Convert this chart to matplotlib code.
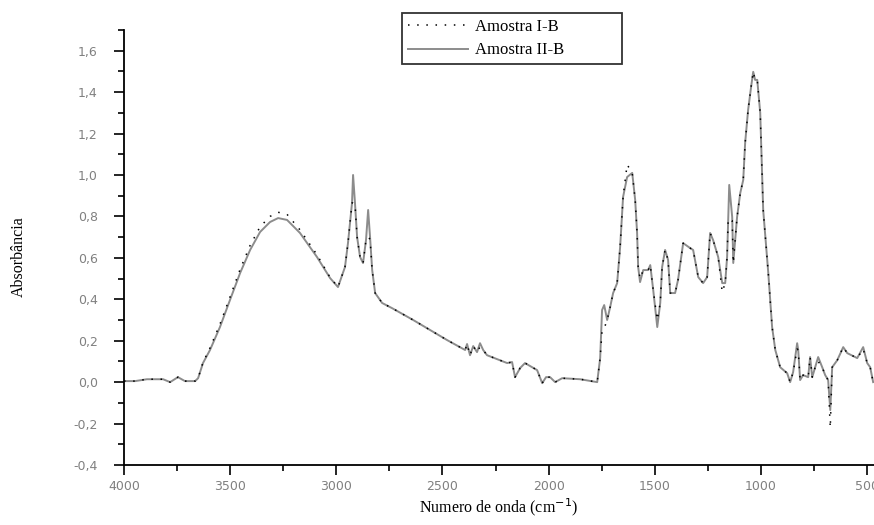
import numpy as np
import matplotlib.pyplot as plt
from matplotlib.ticker import MultipleLocator, FuncFormatter

# wavenumber grid (cm-1)
wavenumber = [4000, 3948, 3892, 3816, 3783, 3746, 3713, 3665, 3651, 3628, 3595, 3548,
              3501, 3453, 3406, 3359, 3312, 3274, 3232, 3171, 3091, 3029, 2992, 2959,
              2945, 2926, 2921, 2912, 2902, 2888, 2874, 2860, 2850, 2841, 2831, 2817,
              2784, 2737, 2638, 2478, 2393, 2384, 2370, 2355, 2337, 2323, 2308, 2290,
              2195, 2172, 2158, 2134, 2111, 2054, 2030, 2012, 1993, 1969, 1936, 1851,
              1771, 1757, 1748, 1738, 1724, 1710, 1696, 1677, 1663, 1649, 1630, 1606,
              1592, 1583, 1578, 1569, 1554, 1531, 1521, 1507, 1488, 1474, 1465, 1451,
              1437, 1427, 1404, 1390, 1366, 1333, 1319, 1295, 1272, 1253, 1239, 1225,
              1201, 1182, 1168, 1159, 1154, 1149, 1135, 1130, 1112, 1097, 1083, 1074,
              1060, 1046, 1036, 1027, 1017, 1003, 989, 965, 947, 932, 909, 876,
              862, 848, 829, 824, 815, 801, 777, 768, 758, 744, 730, 711,
              697, 683, 673, 664, 640, 612, 593, 546, 518, 499, 485, 471]

amostra_2b = [0.005, 0.005, 0.014, 0.014, 0.0, 0.024, 0.005, 0.005, 0.019, 0.092, 0.155, 0.266,
              0.396, 0.527, 0.638, 0.725, 0.773, 0.792, 0.783, 0.720, 0.604, 0.502, 0.459, 0.556,
              0.671, 0.865, 1.000, 0.865, 0.700, 0.604, 0.575, 0.686, 0.831, 0.700, 0.541, 0.430,
              0.382, 0.357, 0.300, 0.203, 0.155, 0.184, 0.130, 0.174, 0.145, 0.188, 0.155, 0.130,
              0.092, 0.097, 0.024, 0.068, 0.092, 0.058, -0.005, 0.024, 0.024, 0.0, 0.019, 0.014,
              0.0, 0.116, 0.348, 0.372, 0.300, 0.362, 0.430, 0.478, 0.652, 0.894, 0.990, 1.010,
              0.879, 0.720, 0.556, 0.483, 0.541, 0.541, 0.565, 0.444, 0.266, 0.382, 0.556, 0.638,
              0.590, 0.430, 0.430, 0.494, 0.671, 0.647, 0.638, 0.507, 0.478, 0.507, 0.720, 0.686,
              0.604, 0.478, 0.478, 0.604, 0.783, 0.952, 0.797, 0.575, 0.797, 0.913, 0.976, 1.155,
              1.314, 1.425, 1.498, 1.459, 1.459, 1.300, 0.831, 0.527, 0.266, 0.155, 0.072, 0.043,
              0.0, 0.048, 0.188, 0.155, 0.010, 0.034, 0.024, 0.121, 0.024, 0.072, 0.121, 0.072,
              0.034, 0.010, -0.135, 0.072, 0.106, 0.169, 0.140, 0.116, 0.169, 0.092, 0.072, 0.0]

amostra_1b = [0.005, 0.005, 0.014, 0.014, 0.0, 0.024, 0.005, 0.005, 0.019, 0.095, 0.165, 0.280,
              0.410, 0.545, 0.660, 0.750, 0.800, 0.820, 0.810, 0.735, 0.615, 0.505, 0.459, 0.556,
              0.671, 0.865, 0.865, 0.860, 0.700, 0.604, 0.575, 0.686, 0.700, 0.690, 0.541, 0.430,
              0.382, 0.357, 0.300, 0.203, 0.155, 0.184, 0.130, 0.174, 0.145, 0.170, 0.155, 0.130,
              0.092, 0.097, 0.024, 0.068, 0.092, 0.058, -0.005, 0.024, 0.024, 0.0, 0.019, 0.014,
              0.0, 0.116, 0.250, 0.260, 0.300, 0.362, 0.430, 0.478, 0.652, 0.894, 1.050, 1.010,
              0.879, 0.720, 0.556, 0.500, 0.541, 0.541, 0.565, 0.444, 0.300, 0.382, 0.556, 0.638,
              0.590, 0.430, 0.430, 0.494, 0.671, 0.647, 0.638, 0.507, 0.478, 0.507, 0.720, 0.686,
              0.604, 0.435, 0.478, 0.604, 0.783, 0.790, 0.780, 0.575, 0.797, 0.913, 0.976, 1.155,
              1.314, 1.425, 1.498, 1.459, 1.459, 1.300, 0.831, 0.527, 0.266, 0.155, 0.072, 0.043,
              0.0, 0.048, 0.160, 0.155, 0.010, 0.034, 0.024, 0.121, 0.024, 0.072, 0.100, 0.072,
              0.034, 0.010, -0.220, 0.072, 0.106, 0.169, 0.140, 0.116, 0.160, 0.092, 0.072, 0.0]

fig = plt.figure(figsize=(8.74, 5.25), dpi=100)
ax = fig.add_axes([0.1419, 0.1143, 0.8581, 0.8286])

ax.plot(wavenumber, amostra_2b, color="#8c8c8c", linewidth=1.4, label="Amostra II-B", zorder=2)
ax.plot(wavenumber, amostra_1b, color="black", linewidth=1.1, linestyle=(0, (1, 5)),
        label="Amostra I-B", zorder=3)

ax.set_xlim(4000, 467)
ax.set_ylim(-0.4, 1.70)

ax.xaxis.set_major_locator(MultipleLocator(500))
ax.xaxis.set_minor_locator(MultipleLocator(250))
ax.yaxis.set_major_locator(MultipleLocator(0.2))
ax.yaxis.set_minor_locator(MultipleLocator(0.1))
ax.yaxis.set_major_formatter(FuncFormatter(lambda v, p: f"{v:.1f}".replace(".", ",").replace("-0,0", "0,0")))
ax.xaxis.set_major_formatter(FuncFormatter(lambda v, p: f"{v:.0f}"))

for s in ["top", "right"]:
    ax.spines[s].set_visible(False)
for s in ["left", "bottom"]:
    ax.spines[s].set_linewidth(1.3)

ax.tick_params(which="major", direction="out", length=7, width=1.2, labelsize=9,
               labelcolor="#808080")
ax.tick_params(axis="y", which="major", pad=12)
ax.tick_params(axis="x", which="major", pad=4)
ax.tick_params(which="minor", direction="out", length=4, width=1.2)

serif = ["Liberation Serif", "DejaVu Serif"]
ax.set_xlabel("Numero de onda (cm$^{-1}$)", family=serif, fontsize=11.5)
ax.set_ylabel("Absorbância", family=serif, fontsize=11.5)
ax.xaxis.set_label_coords(0.5, -0.072)
ax.yaxis.set_label_coords(-0.13, 0.48)

# legend sits above the axes, order: I-B then II-B
h, l = ax.get_legend_handles_labels()
leg = fig.legend(h[::-1], l[::-1], loc="upper left",
                 bbox_to_anchor=(0.46, 0.872, 0.252, 0.103), mode="expand",
                 prop={"family": serif, "size": 12}, frameon=True, fancybox=False,
                 edgecolor="black", handlelength=3.6, handletextpad=0.45,
                 borderpad=0.35, labelspacing=0.45, borderaxespad=0)
leg.get_frame().set_linewidth(1.3)

fig.savefig("out.png", dpi=100)
